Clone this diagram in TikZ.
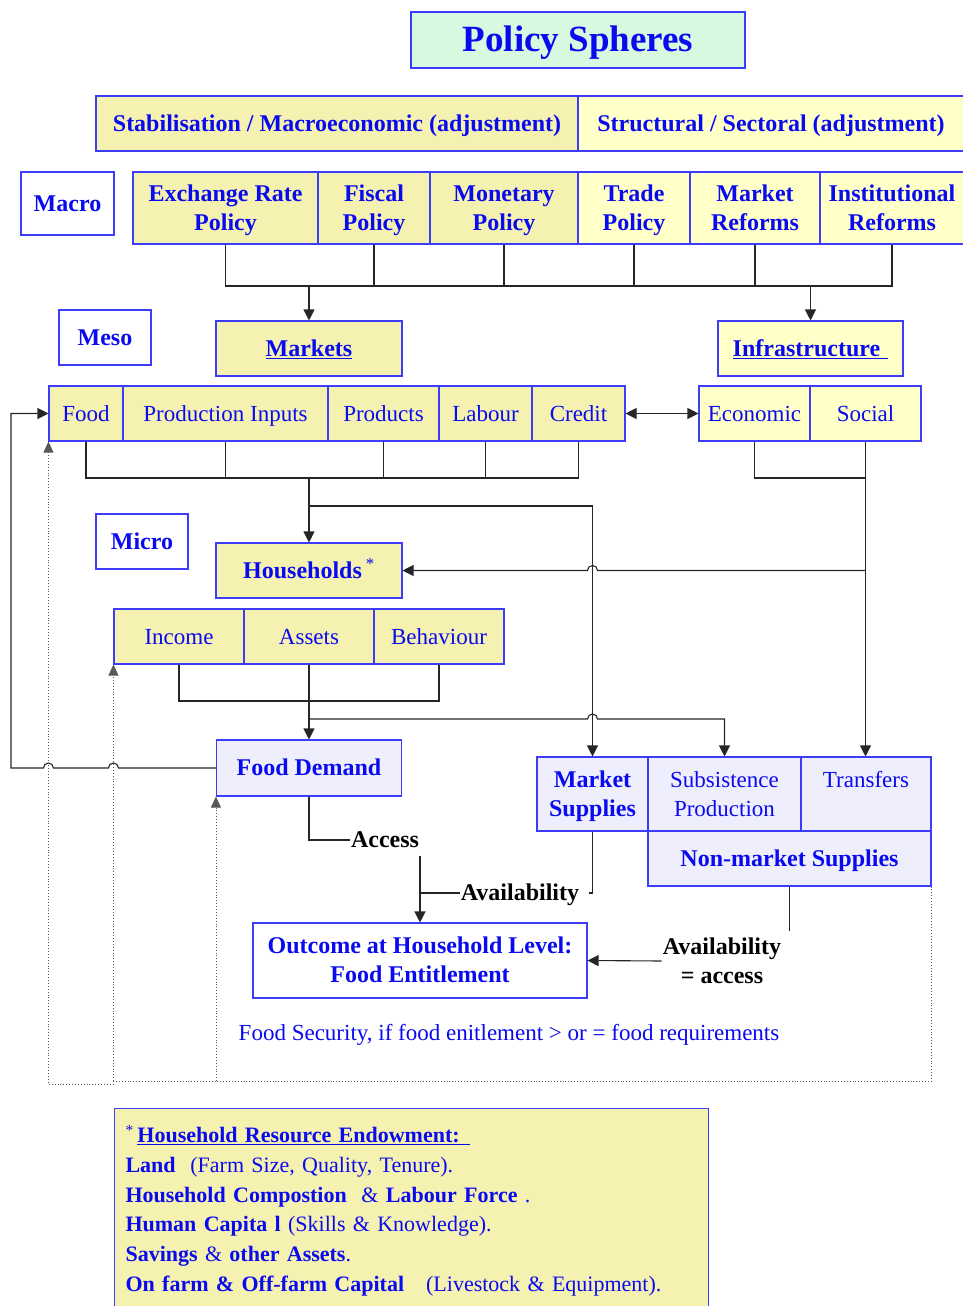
\documentclass[tikz,border=0pt]{standalone}
\usepackage{fontspec}
\setmainfont{Liberation Serif}
\usetikzlibrary{arrows.meta,calc}
\definecolor{tblue}{RGB}{10,10,240}
\definecolor{bblue}{RGB}{60,60,250}
\definecolor{khaki}{RGB}{245,241,176}
\definecolor{lyellow}{RGB}{255,255,200}
\definecolor{lav}{RGB}{238,238,252}
\definecolor{mint}{RGB}{216,248,224}
\newcommand\st{\rule[-6.7pt]{0pt}{29pt}}
\newcommand\twol[2]{#1\st\\#2\st}
\begin{document}
\begin{tikzpicture}[x=1pt,y=-1pt,
  every node/.style={font=\fontsize{23}{29}\selectfont, text=tblue},
  bx/.style={draw=bblue, line width=1.1pt, inner sep=0pt, align=center},
  kh/.style={bx, fill=khaki},
  ly/.style={bx, fill=lyellow},
  lv/.style={bx, fill=lav},
  wh/.style={bx, fill=white},
  bf/.style={font=\fontsize{24}{29}\selectfont\bfseries},
  conn/.style={draw=black!85, line width=1.1pt},
  arr/.style={conn, -{Triangle[length=11pt,width=11pt]}},
  darr/.style={conn, {Triangle[length=11pt,width=11pt]}-{Triangle[length=11pt,width=11pt]}},
  dotln/.style={draw=black!65, line width=0.9pt, dotted},
  dotarr/.style={dotln, -{Triangle[length=11pt,width=10pt]}},
  lbl/.style={text=black, font=\fontsize{24}{29}\selectfont\bfseries, inner sep=1pt, fill=white},
]
\useasboundingbox (0,0) rectangle (962,1306);

% title
\node[bx, fill=mint, minimum width=334, minimum height=56, font=\fontsize{37}{42}\selectfont\bfseries] (title) at (578,40) {Policy Spheres\rule[-9pt]{0pt}{42pt}};

% adjustment row
\node[kh, bf, minimum width=482, minimum height=55] (stab) at (337,123.5) {Stabilisation / Macroeconomic (adjustment)\st};
\node[ly, bf, minimum width=386, minimum height=55] (struc) at (771,123.5) {Structural / Sectoral (adjustment)\st};

% macro row
\node[wh, bf, minimum width=93, minimum height=63] (macro) at (67.5,203.5) {Macro\st};
\node[kh, bf, minimum width=185, minimum height=72] (exch) at (225.5,208) {\twol{Exchange Rate}{Policy}};
\node[kh, bf, minimum width=112, minimum height=72] (fisc) at (374,208) {\twol{Fiscal}{Policy}};
\node[kh, bf, minimum width=148, minimum height=72] (mone) at (504,208) {\twol{Monetary}{Policy}};
\node[ly, bf, minimum width=112, minimum height=72] (trade) at (634,208) {\twol{Trade}{Policy}};
\node[ly, bf, minimum width=130, minimum height=72] (mref) at (755,208) {\twol{Market}{Reforms}};
\node[ly, bf, minimum width=144, minimum height=72] (inst) at (892,208) {\twol{Institutional}{Reforms}};

% meso
\node[wh, bf, minimum width=92, minimum height=55] (meso) at (105,337.5) {Meso\st};
\node[kh, bf, minimum width=186, minimum height=55] (markets) at (309,348.5) {\underline{Markets}\st};
\node[ly, bf, minimum width=185, minimum height=55] (infra) at (810.5,348.5) {\underline{Infrastructure\hspace{8pt}}\st};

\node[kh, minimum width=74, minimum height=55] (food) at (86,413.5) {Food\st};
\node[kh, minimum width=205, minimum height=55] (prod) at (225.5,413.5) {Production Inputs\st};
\node[kh, minimum width=111, minimum height=55] (prods) at (383.5,413.5) {Products\st};
\node[kh, minimum width=93, minimum height=55] (lab) at (485.5,413.5) {Labour\st};
\node[kh, minimum width=93, minimum height=55] (cred) at (578.5,413.5) {Credit\st};
\node[ly, minimum width=111, minimum height=55] (econ) at (754.5,413.5) {Economic\st};
\node[ly, minimum width=111, minimum height=55] (soc) at (865.5,413.5) {Social\st};

% micro
\node[wh, bf, minimum width=92, minimum height=55] (micro) at (142,541.5) {Micro\st};
\node[kh, bf, minimum width=186, minimum height=55] (house) at (309,570.5) {Households\,\textsuperscript{\normalfont *}\st};
\node[kh, minimum width=130, minimum height=55] (inc) at (179,636.5) {Income\st};
\node[kh, minimum width=130, minimum height=55] (ass) at (309,636.5) {Assets\st};
\node[kh, minimum width=130, minimum height=55] (beh) at (439,636.5) {Behaviour\st};

\node[lv, bf, minimum width=185, minimum height=56] (fd) at (309,768) {Food Demand\st};

% supplies
\node[lv, bf, minimum width=111, minimum height=74] (ms) at (592.5,794) {\twol{Market}{Supplies}};
\node[lv, minimum width=153, minimum height=74] (sp) at (724.5,794) {\twol{Subsistence}{Production}};
\node[lv, minimum width=130, minimum height=74] (tr) at (866,794) {\twol{Transfers}{}};
\node[lv, bf, minimum width=283, minimum height=55] (nm) at (789.5,858.5) {Non-market Supplies\st};

\node[wh, bf, minimum width=334, minimum height=75] (out) at (420,960.5) {\twol{Outcome at Household Level:}{Food Entitlement}};

\node[lbl] (access) at (385,840) {Access\st};
\node[lbl] (av1) at (520,893) {Availability\st};
\node[lbl, align=center] (av2) at (722,961) {\twol{Availability}{= access}};

\node (fs) at (509,1033) {Food Security, if food enitlement > or = food requirements\st};

% endowment box
\node[kh, anchor=north west, minimum width=594, minimum height=204, align=left, text width=572, inner xsep=11pt, font=\fontsize{22}{29.7}\selectfont] (endow) at (114,1108)
{\textsuperscript{*}\,\underline{\textbf{Household Resource Endowment:}\hspace{10pt}}\\
\textbf{Land}\ \ (Farm Size, Quality, Tenure).\\
\textbf{Household Compostion}\ \ \&\ \textbf{Labour Force}\ .\\
\textbf{Human Capita l} (Skills \& Knowledge).\\
\textbf{Savings}\ \&\ \textbf{other Assets}.\\
\textbf{On farm \& Off-farm Capital}\hspace{22pt}(Livestock \& Equipment).};

% ---- connectors ----
\coordinate (bus1) at (0,286);
\draw[conn] (exch.south) |- (inst.south |- bus1) -- (inst.south);
\foreach \n in {fisc,mone,trade,mref} \draw[conn] (\n.south) -- (\n.south |- bus1);
\draw[arr] (markets.north |- bus1) -- (markets.north);
\draw[arr] (infra.north |- bus1) -- (infra.north);

\draw[darr] (cred.east) -- (econ.west);

\coordinate (bus2) at (0,478);
\draw[conn] (food.south) |- (cred.south |- bus2) -- (cred.south);
\foreach \n in {prod,prods,lab} \draw[conn] (\n.south) -- (\n.south |- bus2);
\draw[arr] (house.north |- bus2) -- (house.north);
\coordinate (bus2b) at (0,506);
\draw[arr] (house.north |- bus2b) -| (ms.north);

\draw[conn] (econ.south) |- (soc.south |- bus2);
\draw[arr] (soc.south) -- (soc.south |- tr.north);
\coordinate (hop1) at (ms.north |- house.east);
\draw[arr] (soc.south |- house.east) -- ([xshift=5pt]hop1) arc[start angle=0,end angle=180,radius=5pt] -- (house.east);

\coordinate (bus3) at (0,701);
\draw[conn] (inc.south) |- (beh.south |- bus3) -- (beh.south);
\draw[conn] (ass.south) -- (ass.south |- bus3);
\draw[arr] (ass.south |- bus3) -- (fd.north);
\coordinate (bus3b) at (0,719);
\coordinate (hop2) at (ms.north |- bus3b);
\draw[arr] (fd.north |- bus3b) -- ([xshift=-5pt]hop2) arc[start angle=180,end angle=0,radius=5pt] -| (sp.north);

% food demand feedback to food market
\coordinate (hop3) at (inc.south west |- fd.west);
\coordinate (hop4) at (food.south west |- fd.west);
\coordinate (lft) at (11,768);
\draw[arr] (fd.west) -- ([xshift=5pt]hop3) arc[start angle=0,end angle=180,radius=5pt]
  -- ([xshift=5pt]hop4) arc[start angle=0,end angle=180,radius=5pt] -- (lft) |- (food.west);

% access / availability
\draw[conn] (fd.south) |- (access.west);
\draw[arr] (out.north |- access.south) -- (out.north);
\draw[conn] (av1.west) -- (out.north |- av1.west);
\draw[conn] (ms.south) |- ([xshift=-4pt]ms.south |- av1.east);
\draw[conn] (nm.south) -- (nm.south |- av2.north);
\draw[arr] (av2.west) -- (out.east);

% dotted feedback
\coordinate (dbot) at (0,1081);
\coordinate (dbot2) at (0,1084);
\draw[dotln] (nm.south east) -- (nm.south east |- dbot) -- (inc.south west |- dbot);
\draw[dotarr] (fd.south west |- dbot) -- (fd.south west);
\draw[dotarr] (inc.south west |- dbot) -- (inc.south west);
\draw[dotarr] (inc.south west |- dbot) -- (inc.south west |- dbot2) -- (food.south west |- dbot2) -- (food.south west);
\end{tikzpicture}
\end{document}
